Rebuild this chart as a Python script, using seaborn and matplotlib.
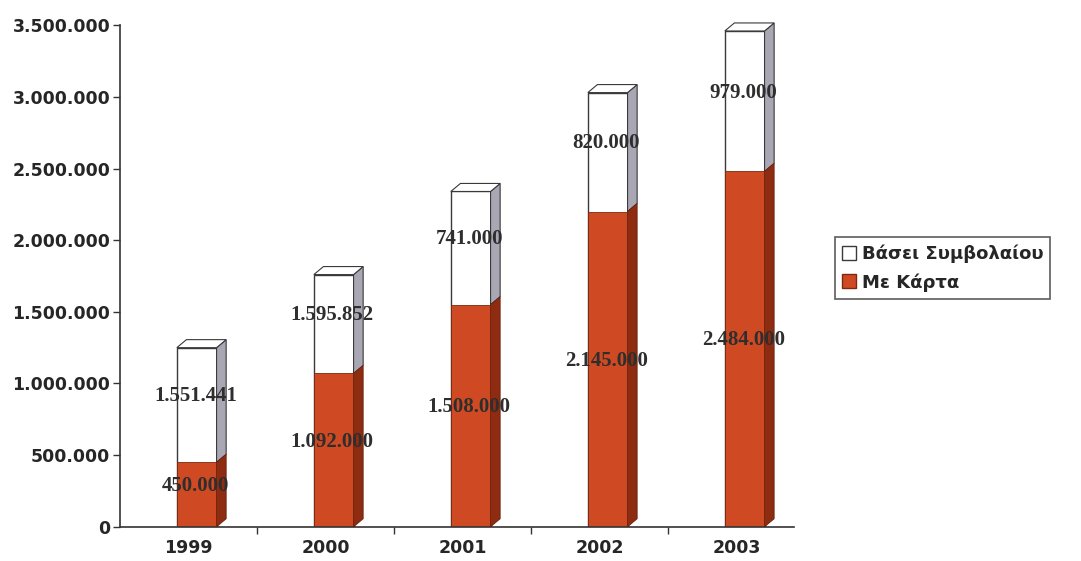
import matplotlib
matplotlib.use('Agg')
import matplotlib.pyplot as plt
import seaborn as sns
import pandas as pd
from matplotlib.patches import Polygon, Patch
from matplotlib.ticker import FuncFormatter

# Δεδομένα (ύψη όπως φαίνονται στο γράφημα, ετικέτες όπως γράφονται)
years = ['1999', '2000', '2001', '2002', '2003']
me_karta = [450000, 1070000, 1550000, 2200000, 2480000]
vasei_symvolaiou = [800000, 690000, 790000, 830000, 980000]
karta_labels = ['450.000', '1.092.000', '1.508.000', '2.145.000', '2.484.000']
symv_labels = ['1.551.441', '1.595.852', '741.000', '820.000', '979.000']

red = '#cf4a22'
red_side = '#8e2c12'
white_side = '#a9a7b4'
edge = '#3a3a3a'

df = pd.DataFrame({'year': years, 'karta': me_karta, 'symv': vasei_symvolaiou})
df['total'] = df['karta'] + df['symv']

sns.set_style('white')
plt.rcParams['font.family'] = ['DejaVu Sans']

fig = plt.figure(figsize=(10.81, 5.61), dpi=100)
ax = fig.add_axes([0.111, 0.061, 0.6235, 0.894])

# στοιβαγμένες στήλες: πρώτα το σύνολο (λευκό), μετά η κάρτα (κόκκινο)
sns.barplot(data=df, x='year', y='total', color='white', edgecolor=edge,
            linewidth=1.0, width=0.29, ax=ax, saturation=1)
n_top = len(ax.patches)
sns.barplot(data=df, x='year', y='karta', color=red, edgecolor='#7a2a10',
            linewidth=0.6, width=0.29, ax=ax, saturation=1)

# οι στήλες του πρωτοτύπου κάθονται λίγο δεξιά από την ετικέτα
shift = 0.06
for p in ax.patches:
    p.set_x(p.get_x() + shift)

top_bars = ax.patches[:n_top]
red_bars = ax.patches[n_top:]

# ψευδο-3D βάθος
dx, dy = 0.07, 56000
for tb, rb in zip(top_bars, red_bars):
    x0 = tb.get_x()
    x1 = x0 + tb.get_width()
    yt = tb.get_height()
    yr = rb.get_height()
    ax.add_patch(Polygon([(x1, yr), (x1 + dx, yr + dy), (x1 + dx, yt + dy), (x1, yt)],
                         closed=True, facecolor=white_side, edgecolor=edge, lw=0.8,
                         clip_on=False, zorder=3))
    ax.add_patch(Polygon([(x1, 0), (x1 + dx, dy), (x1 + dx, yr + dy), (x1, yr)],
                         closed=True, facecolor=red_side, edgecolor='#6a200c', lw=0.6,
                         clip_on=False, zorder=3))
    ax.add_patch(Polygon([(x0, yt), (x0 + dx, yt + dy), (x1 + dx, yt + dy), (x1, yt)],
                         closed=True, facecolor='white', edgecolor=edge, lw=0.8,
                         clip_on=False, zorder=3))

# ετικέτες τιμών
for i, row in df.iterrows():
    xc = i + 0.05
    ax.text(xc, row['karta'] / 2 + 60000, karta_labels[i], ha='center', va='center',
            fontsize=15, fontweight='bold', color='#2e2e2e',
            family=['Liberation Serif', 'DejaVu Serif'], zorder=5)
    ax.text(xc, row['karta'] + row['symv'] / 2 + 60000, symv_labels[i], ha='center',
            va='center', fontsize=15, fontweight='bold', color='#2e2e2e',
            family=['Liberation Serif', 'DejaVu Serif'], zorder=5)

ax.set_ylim(0, 3500000)
ax.set_xlim(-0.5, 4.42)
ax.set_yticks(range(0, 3500001, 500000))
ax.yaxis.set_major_formatter(FuncFormatter(lambda v, p: f'{int(v):,}'.replace(',', '.')))
ax.set_xlabel('')
ax.set_ylabel('')

for lab in ax.get_yticklabels() + ax.get_xticklabels():
    lab.set_fontweight('bold')
    lab.set_fontsize(12.5)
    lab.set_color('#262626')

sns.despine(ax=ax)
for s in ['left', 'bottom']:
    ax.spines[s].set_color('#333333')
    ax.spines[s].set_linewidth(1.2)

ax.tick_params(axis='y', which='major', length=5, width=1, color='#333333', left=True, pad=2)
ax.tick_params(axis='x', which='major', length=0, pad=9)
ax.set_xticks([0.5, 1.5, 2.5, 3.5], minor=True)
ax.tick_params(axis='x', which='minor', length=5, width=1, color='#333333', bottom=True)

handles = [Patch(facecolor='white', edgecolor=edge, label='Βάσει Συμβολαίου'),
           Patch(facecolor=red, edgecolor='#7a2a10', label='Με Κάρτα')]
leg = fig.legend(handles=handles, loc='center left', bbox_to_anchor=(0.772, 0.522),
                 frameon=True, fancybox=False, prop={'weight': 'bold', 'size': 13},
                 handlelength=0.8, handleheight=0.8, handletextpad=0.3,
                 borderpad=0.4, labelspacing=0.55, borderaxespad=0)
leg.get_frame().set_edgecolor('#333333')
leg.get_frame().set_linewidth(1.2)

fig.savefig('out.png', dpi=100, facecolor='white')
